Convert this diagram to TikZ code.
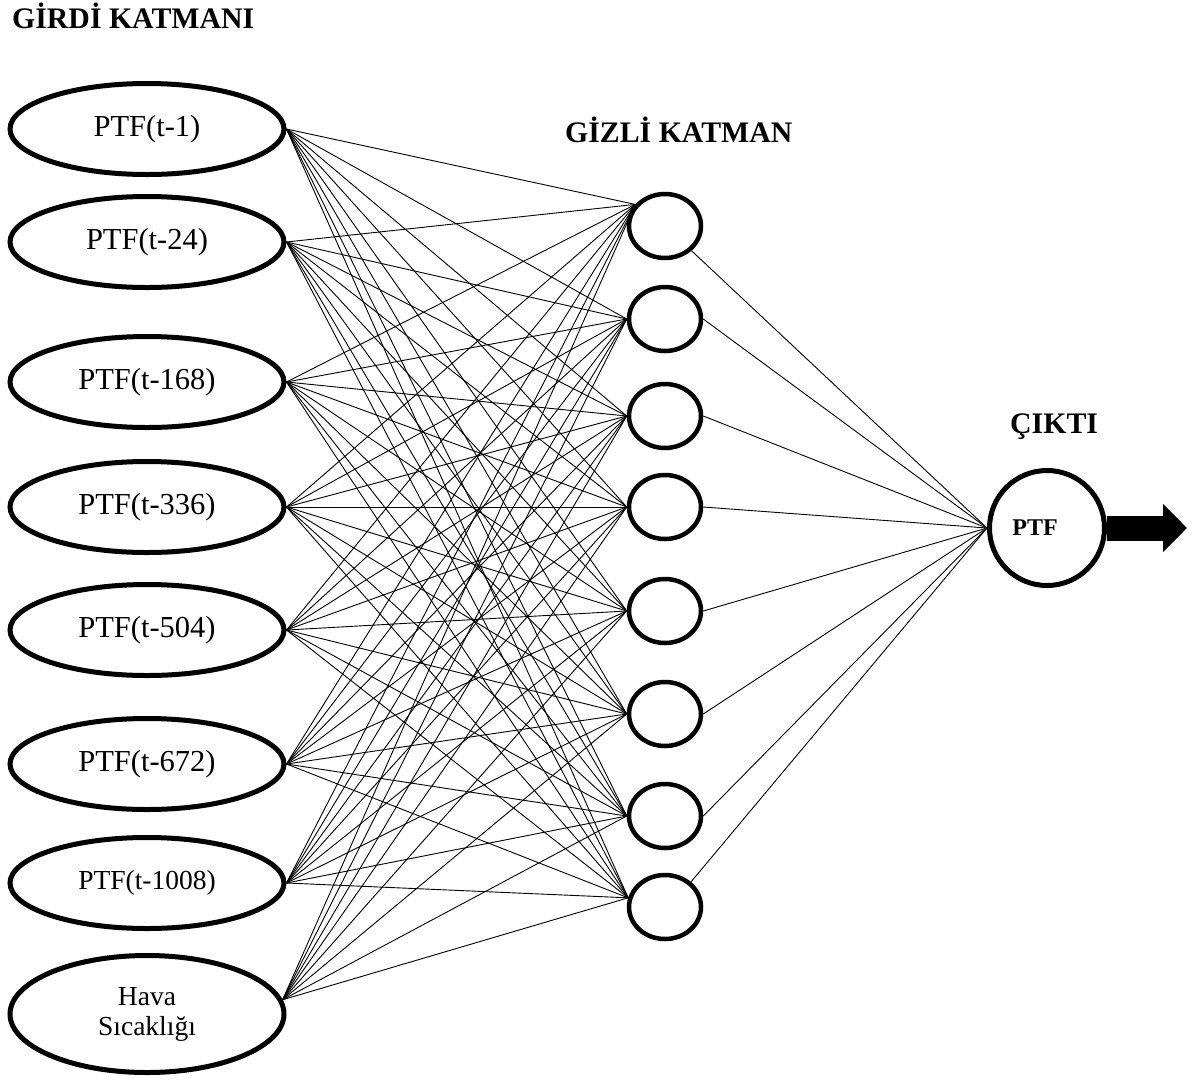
\documentclass[tikz,border=0pt]{standalone}
\usepackage{fontspec}
\setmainfont{Liberation Serif}
\usetikzlibrary{shapes.geometric,arrows.meta}

\tikzset{
  girdi/.style={ellipse, draw, line width=5pt, minimum width=274pt, minimum height=91pt,
    inner sep=0pt, align=center, font=\fontsize{30.5}{31}\selectfont},
  gizli/.style={ellipse, draw, line width=4.5pt, minimum width=72pt, minimum height=64pt, inner sep=0pt},
  cikti/.style={circle, draw, line width=5pt, minimum size=115pt, inner sep=0pt,
    font=\fontsize{24}{26}\selectfont\bfseries},
  baslik/.style={anchor=base west, inner sep=0pt, font=\fontsize{29.8}{31}\selectfont\bfseries},
  bag/.style={line width=0.9pt},
  okbuyuk/.style={line width=25pt, -{Triangle[length=24pt,width=47pt]}}
}

\begin{document}
\begin{tikzpicture}[x=1pt,y=-1pt]
	\useasboundingbox (0,0) rectangle (1195,1080);

	% layer titles
	\node[baslik] (t-girdi) at (12,28) {GİRDİ KATMANI};
	\node[baslik] (t-gizli) at (565,142) {GİZLİ KATMAN};
	\node[baslik] (t-cikti) at (1010,433) {ÇIKTI};

	% input layer
	\node[girdi] (g1) at (147,129) {PTF(t-1)};
	\node[girdi] (g2) at (147,242) {PTF(t-24)};
	\node[girdi] (g3) at (147,382) {PTF(t-168)};
	\node[girdi] (g4) at (147,507) {PTF(t-336)};
	\node[girdi] (g5) at (147,630) {PTF(t-504)};
	\node[girdi] (g6) at (147,764) {PTF(t-672)};
	\node[girdi, font=\fontsize{27.5}{30}\selectfont] (g7) at (147,883) {PTF(t-1008)};
	\node[girdi, minimum height=117pt, font=\fontsize{27.5}{30}\selectfont] (g8) at (147,1014) {Hava\\Sıcaklığı};

	% hidden layer
	\foreach \i/\y in {1/226,2/319,3/416,4/507,5/611,6/714,7/816,8/907}
		\node[gizli] (h\i) at (665,\y) {};

	% output
	\node[cikti] (c) at (1047,528) {PTF\kern24pt};
	\coordinate (uc) at (1187,528);

	% connections input -> hidden
	\foreach \g/\ga in {1/0,2/0,3/0,4/0,5/0,6/0,7/0,8/6}
		\foreach \h/\ha in {1/144,2/180,3/180,4/180,5/180,6/180,7/180,8/166}
			\draw[bag] (g\g.\ga) -- (h\h.\ha);

	% hidden -> output
	\foreach \h/\hb in {1/-43,2/0,3/0,4/0,5/0,6/0,7/0,8/44}
		\draw[bag] (h\h.\hb) -- (c.west);

	\draw[okbuyuk] (c.east) -- (uc);
\end{tikzpicture}
\end{document}
